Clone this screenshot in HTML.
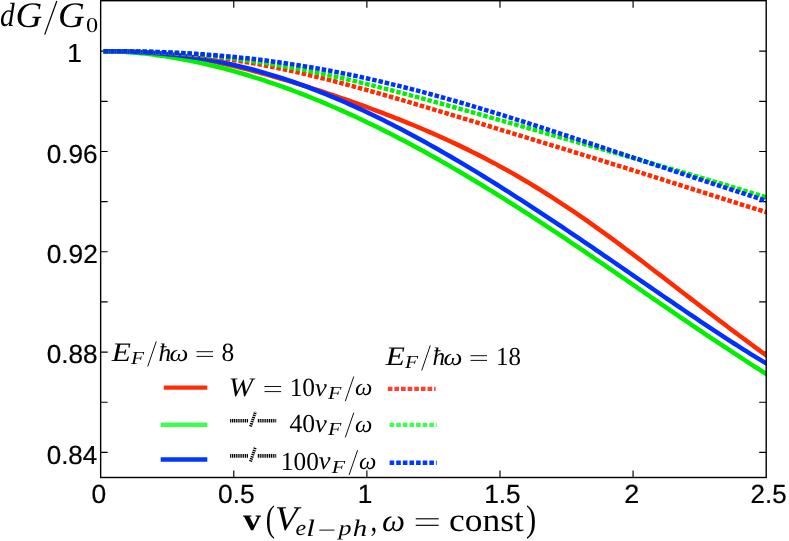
<!DOCTYPE html>
<html><head><meta charset="utf-8"><title>chart</title>
<style>html,body{margin:0;padding:0;background:#fff}body{width:789px;height:541px;overflow:hidden}svg{display:block;will-change:transform}.sans{font-family:"Liberation Sans",sans-serif;fill:#000}.ser{font-family:"Liberation Serif",serif;fill:#000}.it{font-style:italic}text{font-kerning:none;text-rendering:geometricPrecision}</style></head><body>
<svg width="789" height="541" viewBox="0 0 789 541">
<rect x="0" y="0" width="789" height="541" fill="#fff"/>
<defs><clipPath id="ax"><rect x="100.65" y="0.7" width="665.5500000000001" height="476.8"/></clipPath></defs>
<g stroke="#000" stroke-width="1.15" fill="none">
<path d="M100.65,452.40h7.0 M766.2,452.40h-7.0"/>
<path d="M100.65,402.24h7.0 M766.2,402.24h-7.0"/>
<path d="M100.65,352.09h7.0 M766.2,352.09h-7.0"/>
<path d="M100.65,301.93h7.0 M766.2,301.93h-7.0"/>
<path d="M100.65,251.77h7.0 M766.2,251.77h-7.0"/>
<path d="M100.65,201.62h7.0 M766.2,201.62h-7.0"/>
<path d="M100.65,151.46h7.0 M766.2,151.46h-7.0"/>
<path d="M100.65,101.31h7.0 M766.2,101.31h-7.0"/>
<path d="M100.65,51.15h7.0 M766.2,51.15h-7.0"/>
<path d="M233.76,477.5v-7.0 M233.76,0.7v7.0"/>
<path d="M366.87,477.5v-7.0 M366.87,0.7v7.0"/>
<path d="M499.98,477.5v-7.0 M499.98,0.7v7.0"/>
<path d="M633.09,477.5v-7.0 M633.09,0.7v7.0"/>
</g>
<g clip-path="url(#ax)" fill="none" stroke-linecap="butt" stroke-linejoin="round">
<path d="M103.20,51.15 L107.38,51.17 L111.56,51.20 L115.73,51.25 L119.91,51.33 L124.09,51.43 L128.27,51.56 L132.45,51.72 L136.62,51.91 L140.80,52.14 L144.98,52.39 L149.16,52.68 L153.34,53.01 L157.51,53.37 L161.69,53.77 L165.87,54.20 L170.05,54.67 L174.23,55.18 L178.40,55.72 L182.58,56.30 L186.76,56.91 L190.94,57.56 L195.12,58.25 L199.29,58.96 L203.47,59.71 L207.65,60.50 L211.83,61.31 L216.01,62.16 L220.18,63.04 L224.36,63.94 L228.54,64.88 L232.72,65.84 L236.90,66.83 L241.07,67.84 L245.25,68.88 L249.43,69.94 L253.61,71.03 L257.79,72.14 L261.96,73.27 L266.14,74.42 L270.32,75.59 L274.50,76.78 L278.68,77.99 L282.85,79.22 L287.03,80.46 L291.21,81.72 L295.39,83.00 L299.57,84.30 L303.74,85.61 L307.92,86.93 L312.10,88.27 L316.28,89.62 L320.46,90.99 L324.63,92.37 L328.81,93.77 L332.99,95.18 L337.17,96.60 L341.35,98.04 L345.52,99.49 L349.70,100.95 L353.88,102.43 L358.06,103.92 L362.24,105.43 L366.41,106.95 L370.59,108.49 L374.77,110.04 L378.95,111.61 L383.13,113.19 L387.30,114.80 L391.48,116.41 L395.66,118.05 L399.84,119.70 L404.02,121.38 L408.19,123.07 L412.37,124.78 L416.55,126.51 L420.73,128.27 L424.91,130.04 L429.08,131.84 L433.26,133.66 L437.44,135.50 L441.62,137.37 L445.79,139.26 L449.97,141.18 L454.15,143.13 L458.33,145.10 L462.51,147.10 L466.68,149.13 L470.86,151.18 L475.04,153.26 L479.22,155.38 L483.40,157.52 L487.57,159.70 L491.75,161.90 L495.93,164.14 L500.11,166.41 L504.29,168.71 L508.46,171.04 L512.64,173.40 L516.82,175.80 L521.00,178.23 L525.18,180.69 L529.35,183.18 L533.53,185.71 L537.71,188.27 L541.89,190.86 L546.07,193.48 L550.24,196.13 L554.42,198.82 L558.60,201.54 L562.78,204.29 L566.96,207.07 L571.13,209.87 L575.31,212.71 L579.49,215.58 L583.67,218.47 L587.85,221.39 L592.02,224.33 L596.20,227.31 L600.38,230.30 L604.56,233.32 L608.74,236.36 L612.91,239.42 L617.09,242.50 L621.27,245.60 L625.45,248.71 L629.63,251.85 L633.80,254.99 L637.98,258.15 L642.16,261.33 L646.34,264.51 L650.52,267.70 L654.69,270.91 L658.87,274.11 L663.05,277.33 L667.23,280.54 L671.41,283.76 L675.58,286.98 L679.76,290.20 L683.94,293.42 L688.12,296.64 L692.30,299.85 L696.47,303.06 L700.65,306.26 L704.83,309.46 L709.01,312.65 L713.19,315.82 L717.36,319.00 L721.54,322.16 L725.72,325.31 L729.90,328.45 L734.08,331.58 L738.25,334.70 L742.43,337.81 L746.61,340.91 L750.79,344.00 L754.97,347.09 L759.14,350.16 L763.32,353.24 L767.50,356.31" stroke="#ff2a00" stroke-width="4.5"/>
<path d="M103.20,51.16 L107.38,51.21 L111.56,51.31 L115.73,51.45 L119.91,51.63 L124.09,51.86 L128.27,52.13 L132.45,52.44 L136.62,52.79 L140.80,53.19 L144.98,53.62 L149.16,54.09 L153.34,54.60 L157.51,55.15 L161.69,55.73 L165.87,56.35 L170.05,57.01 L174.23,57.70 L178.40,58.43 L182.58,59.19 L186.76,59.99 L190.94,60.82 L195.12,61.68 L199.29,62.58 L203.47,63.51 L207.65,64.47 L211.83,65.46 L216.01,66.48 L220.18,67.54 L224.36,68.62 L228.54,69.74 L232.72,70.89 L236.90,72.06 L241.07,73.27 L245.25,74.50 L249.43,75.76 L253.61,77.06 L257.79,78.38 L261.96,79.73 L266.14,81.10 L270.32,82.51 L274.50,83.94 L278.68,85.40 L282.85,86.88 L287.03,88.40 L291.21,89.94 L295.39,91.50 L299.57,93.09 L303.74,94.71 L307.92,96.35 L312.10,98.02 L316.28,99.72 L320.46,101.44 L324.63,103.18 L328.81,104.95 L332.99,106.74 L337.17,108.56 L341.35,110.40 L345.52,112.27 L349.70,114.16 L353.88,116.08 L358.06,118.01 L362.24,119.97 L366.41,121.96 L370.59,123.97 L374.77,126.00 L378.95,128.05 L383.13,130.12 L387.30,132.22 L391.48,134.34 L395.66,136.48 L399.84,138.64 L404.02,140.82 L408.19,143.03 L412.37,145.25 L416.55,147.50 L420.73,149.76 L424.91,152.05 L429.08,154.36 L433.26,156.68 L437.44,159.03 L441.62,161.39 L445.79,163.77 L449.97,166.17 L454.15,168.59 L458.33,171.03 L462.51,173.49 L466.68,175.96 L470.86,178.45 L475.04,180.96 L479.22,183.49 L483.40,186.03 L487.57,188.58 L491.75,191.16 L495.93,193.74 L500.11,196.35 L504.29,198.96 L508.46,201.59 L512.64,204.24 L516.82,206.90 L521.00,209.57 L525.18,212.26 L529.35,214.96 L533.53,217.67 L537.71,220.39 L541.89,223.12 L546.07,225.86 L550.24,228.62 L554.42,231.38 L558.60,234.16 L562.78,236.94 L566.96,239.73 L571.13,242.54 L575.31,245.34 L579.49,248.16 L583.67,250.98 L587.85,253.81 L592.02,256.65 L596.20,259.49 L600.38,262.34 L604.56,265.19 L608.74,268.05 L612.91,270.91 L617.09,273.77 L621.27,276.64 L625.45,279.51 L629.63,282.38 L633.80,285.25 L637.98,288.12 L642.16,290.99 L646.34,293.87 L650.52,296.74 L654.69,299.61 L658.87,302.48 L663.05,305.34 L667.23,308.21 L671.41,311.07 L675.58,313.92 L679.76,316.77 L683.94,319.62 L688.12,322.46 L692.30,325.30 L696.47,328.13 L700.65,330.95 L704.83,333.77 L709.01,336.57 L713.19,339.37 L717.36,342.16 L721.54,344.94 L725.72,347.71 L729.90,350.47 L734.08,353.21 L738.25,355.95 L742.43,358.67 L746.61,361.39 L750.79,364.08 L754.97,366.77 L759.14,369.44 L763.32,372.10 L767.50,374.74" stroke="#00f000" stroke-width="4.5"/>
<path d="M103.20,51.15 L107.38,51.17 L111.56,51.21 L115.73,51.27 L119.91,51.36 L124.09,51.46 L128.27,51.59 L132.45,51.74 L136.62,51.92 L140.80,52.13 L144.98,52.36 L149.16,52.63 L153.34,52.92 L157.51,53.24 L161.69,53.59 L165.87,53.98 L170.05,54.39 L174.23,54.84 L178.40,55.31 L182.58,55.83 L186.76,56.37 L190.94,56.95 L195.12,57.56 L199.29,58.21 L203.47,58.89 L207.65,59.60 L211.83,60.35 L216.01,61.14 L220.18,61.96 L224.36,62.82 L228.54,63.71 L232.72,64.63 L236.90,65.59 L241.07,66.59 L245.25,67.62 L249.43,68.69 L253.61,69.79 L257.79,70.92 L261.96,72.10 L266.14,73.30 L270.32,74.54 L274.50,75.82 L278.68,77.12 L282.85,78.47 L287.03,79.84 L291.21,81.25 L295.39,82.70 L299.57,84.17 L303.74,85.68 L307.92,87.22 L312.10,88.79 L316.28,90.40 L320.46,92.03 L324.63,93.70 L328.81,95.39 L332.99,97.12 L337.17,98.88 L341.35,100.67 L345.52,102.48 L349.70,104.33 L353.88,106.20 L358.06,108.10 L362.24,110.03 L366.41,111.99 L370.59,113.97 L374.77,115.98 L378.95,118.02 L383.13,120.08 L387.30,122.17 L391.48,124.28 L395.66,126.42 L399.84,128.58 L404.02,130.76 L408.19,132.97 L412.37,135.20 L416.55,137.46 L420.73,139.73 L424.91,142.03 L429.08,144.35 L433.26,146.69 L437.44,149.05 L441.62,151.43 L445.79,153.83 L449.97,156.25 L454.15,158.69 L458.33,161.14 L462.51,163.62 L466.68,166.11 L470.86,168.62 L475.04,171.15 L479.22,173.69 L483.40,176.25 L487.57,178.83 L491.75,181.42 L495.93,184.02 L500.11,186.64 L504.29,189.28 L508.46,191.93 L512.64,194.59 L516.82,197.27 L521.00,199.95 L525.18,202.65 L529.35,205.37 L533.53,208.09 L537.71,210.83 L541.89,213.57 L546.07,216.33 L550.24,219.09 L554.42,221.87 L558.60,224.66 L562.78,227.45 L566.96,230.25 L571.13,233.06 L575.31,235.88 L579.49,238.71 L583.67,241.54 L587.85,244.38 L592.02,247.22 L596.20,250.07 L600.38,252.93 L604.56,255.78 L608.74,258.65 L612.91,261.51 L617.09,264.38 L621.27,267.26 L625.45,270.13 L629.63,273.01 L633.80,275.88 L637.98,278.76 L642.16,281.64 L646.34,284.51 L650.52,287.39 L654.69,290.26 L658.87,293.13 L663.05,296.00 L667.23,298.86 L671.41,301.72 L675.58,304.58 L679.76,307.42 L683.94,310.26 L688.12,313.10 L692.30,315.92 L696.47,318.73 L700.65,321.54 L704.83,324.33 L709.01,327.11 L713.19,329.88 L717.36,332.64 L721.54,335.38 L725.72,338.10 L729.90,340.81 L734.08,343.49 L738.25,346.16 L742.43,348.81 L746.61,351.44 L750.79,354.04 L754.97,356.62 L759.14,359.17 L763.32,361.69 L767.50,364.19" stroke="#0030ff" stroke-width="4.5"/>
<path d="M103.20,51.15 L107.38,51.16 L111.56,51.18 L115.73,51.21 L119.91,51.25 L124.09,51.31 L128.27,51.38 L132.45,51.46 L136.62,51.57 L140.80,51.69 L144.98,51.83 L149.16,51.99 L153.34,52.17 L157.51,52.37 L161.69,52.59 L165.87,52.83 L170.05,53.09 L174.23,53.38 L178.40,53.69 L182.58,54.03 L186.76,54.39 L190.94,54.77 L195.12,55.18 L199.29,55.61 L203.47,56.06 L207.65,56.54 L211.83,57.04 L216.01,57.57 L220.18,58.12 L224.36,58.69 L228.54,59.29 L232.72,59.91 L236.90,60.55 L241.07,61.22 L245.25,61.91 L249.43,62.62 L253.61,63.36 L257.79,64.11 L261.96,64.89 L266.14,65.69 L270.32,66.51 L274.50,67.35 L278.68,68.21 L282.85,69.08 L287.03,69.98 L291.21,70.89 L295.39,71.83 L299.57,72.78 L303.74,73.74 L307.92,74.73 L312.10,75.72 L316.28,76.74 L320.46,77.77 L324.63,78.81 L328.81,79.87 L332.99,80.94 L337.17,82.02 L341.35,83.11 L345.52,84.22 L349.70,85.34 L353.88,86.47 L358.06,87.61 L362.24,88.76 L366.41,89.91 L370.59,91.08 L374.77,92.25 L378.95,93.44 L383.13,94.63 L387.30,95.83 L391.48,97.03 L395.66,98.24 L399.84,99.46 L404.02,100.68 L408.19,101.90 L412.37,103.13 L416.55,104.37 L420.73,105.61 L424.91,106.85 L429.08,108.10 L433.26,109.35 L437.44,110.60 L441.62,111.85 L445.79,113.11 L449.97,114.37 L454.15,115.63 L458.33,116.89 L462.51,118.15 L466.68,119.42 L470.86,120.68 L475.04,121.95 L479.22,123.22 L483.40,124.49 L487.57,125.76 L491.75,127.02 L495.93,128.29 L500.11,129.56 L504.29,130.83 L508.46,132.10 L512.64,133.38 L516.82,134.65 L521.00,135.92 L525.18,137.19 L529.35,138.46 L533.53,139.73 L537.71,141.00 L541.89,142.28 L546.07,143.55 L550.24,144.82 L554.42,146.10 L558.60,147.37 L562.78,148.65 L566.96,149.93 L571.13,151.20 L575.31,152.48 L579.49,153.76 L583.67,155.04 L587.85,156.32 L592.02,157.61 L596.20,158.89 L600.38,160.18 L604.56,161.47 L608.74,162.76 L612.91,164.05 L617.09,165.34 L621.27,166.64 L625.45,167.94 L629.63,169.24 L633.80,170.54 L637.98,171.85 L642.16,173.15 L646.34,174.46 L650.52,175.77 L654.69,177.09 L658.87,178.40 L663.05,179.72 L667.23,181.04 L671.41,182.36 L675.58,183.69 L679.76,185.01 L683.94,186.34 L688.12,187.66 L692.30,188.99 L696.47,190.32 L700.65,191.65 L704.83,192.98 L709.01,194.30 L713.19,195.63 L717.36,196.95 L721.54,198.27 L725.72,199.59 L729.90,200.91 L734.08,202.22 L738.25,203.52 L742.43,204.82 L746.61,206.12 L750.79,207.40 L754.97,208.68 L759.14,209.95 L763.32,211.20 L767.50,212.45" stroke="#ff2a00" stroke-width="4.5" stroke-dasharray="4.5 1.94" stroke-dashoffset="5.82"/>
<path d="M103.20,51.15 L107.38,51.16 L111.56,51.17 L115.73,51.20 L119.91,51.23 L124.09,51.28 L128.27,51.34 L132.45,51.41 L136.62,51.49 L140.80,51.59 L144.98,51.71 L149.16,51.84 L153.34,51.98 L157.51,52.14 L161.69,52.32 L165.87,52.52 L170.05,52.74 L174.23,52.97 L178.40,53.22 L182.58,53.49 L186.76,53.79 L190.94,54.10 L195.12,54.43 L199.29,54.78 L203.47,55.15 L207.65,55.54 L211.83,55.95 L216.01,56.38 L220.18,56.83 L224.36,57.30 L228.54,57.79 L232.72,58.30 L236.90,58.83 L241.07,59.38 L245.25,59.96 L249.43,60.55 L253.61,61.16 L257.79,61.79 L261.96,62.43 L266.14,63.10 L270.32,63.79 L274.50,64.49 L278.68,65.21 L282.85,65.95 L287.03,66.71 L291.21,67.49 L295.39,68.28 L299.57,69.09 L303.74,69.91 L307.92,70.75 L312.10,71.60 L316.28,72.48 L320.46,73.36 L324.63,74.26 L328.81,75.17 L332.99,76.10 L337.17,77.04 L341.35,78.00 L345.52,78.96 L349.70,79.94 L353.88,80.93 L358.06,81.93 L362.24,82.94 L366.41,83.97 L370.59,85.00 L374.77,86.04 L378.95,87.09 L383.13,88.16 L387.30,89.23 L391.48,90.30 L395.66,91.39 L399.84,92.48 L404.02,93.58 L408.19,94.69 L412.37,95.81 L416.55,96.93 L420.73,98.05 L424.91,99.18 L429.08,100.32 L433.26,101.46 L437.44,102.61 L441.62,103.76 L445.79,104.91 L449.97,106.07 L454.15,107.23 L458.33,108.40 L462.51,109.56 L466.68,110.73 L470.86,111.91 L475.04,113.08 L479.22,114.26 L483.40,115.44 L487.57,116.62 L491.75,117.80 L495.93,118.98 L500.11,120.17 L504.29,121.35 L508.46,122.54 L512.64,123.72 L516.82,124.91 L521.00,126.10 L525.18,127.29 L529.35,128.47 L533.53,129.66 L537.71,130.85 L541.89,132.04 L546.07,133.23 L550.24,134.42 L554.42,135.60 L558.60,136.79 L562.78,137.98 L566.96,139.17 L571.13,140.36 L575.31,141.54 L579.49,142.73 L583.67,143.92 L587.85,145.11 L592.02,146.30 L596.20,147.49 L600.38,148.67 L604.56,149.86 L608.74,151.05 L612.91,152.24 L617.09,153.43 L621.27,154.63 L625.45,155.82 L629.63,157.01 L633.80,158.21 L637.98,159.40 L642.16,160.60 L646.34,161.80 L650.52,163.00 L654.69,164.20 L658.87,165.40 L663.05,166.61 L667.23,167.82 L671.41,169.03 L675.58,170.24 L679.76,171.46 L683.94,172.67 L688.12,173.89 L692.30,175.12 L696.47,176.34 L700.65,177.58 L704.83,178.81 L709.01,180.05 L713.19,181.29 L717.36,182.53 L721.54,183.78 L725.72,185.03 L729.90,186.29 L734.08,187.55 L738.25,188.81 L742.43,190.08 L746.61,191.35 L750.79,192.63 L754.97,193.91 L759.14,195.20 L763.32,196.49 L767.50,197.78" stroke="#00f000" stroke-width="4.5" stroke-dasharray="4.5 1.94" stroke-dashoffset="5.82"/>
<path d="M103.20,51.15 L107.38,51.16 L111.56,51.18 L115.73,51.20 L119.91,51.23 L124.09,51.28 L128.27,51.33 L132.45,51.39 L136.62,51.47 L140.80,51.55 L144.98,51.65 L149.16,51.75 L153.34,51.87 L157.51,52.00 L161.69,52.15 L165.87,52.31 L170.05,52.48 L174.23,52.66 L178.40,52.86 L182.58,53.07 L186.76,53.30 L190.94,53.54 L195.12,53.80 L199.29,54.07 L203.47,54.35 L207.65,54.65 L211.83,54.97 L216.01,55.30 L220.18,55.65 L224.36,56.02 L228.54,56.40 L232.72,56.80 L236.90,57.21 L241.07,57.64 L245.25,58.09 L249.43,58.55 L253.61,59.03 L257.79,59.53 L261.96,60.04 L266.14,60.57 L270.32,61.12 L274.50,61.68 L278.68,62.26 L282.85,62.86 L287.03,63.48 L291.21,64.11 L295.39,64.76 L299.57,65.42 L303.74,66.10 L307.92,66.80 L312.10,67.52 L316.28,68.25 L320.46,69.00 L324.63,69.76 L328.81,70.54 L332.99,71.34 L337.17,72.15 L341.35,72.98 L345.52,73.83 L349.70,74.69 L353.88,75.56 L358.06,76.45 L362.24,77.36 L366.41,78.28 L370.59,79.22 L374.77,80.17 L378.95,81.13 L383.13,82.11 L387.30,83.11 L391.48,84.11 L395.66,85.14 L399.84,86.17 L404.02,87.22 L408.19,88.28 L412.37,89.35 L416.55,90.44 L420.73,91.54 L424.91,92.65 L429.08,93.77 L433.26,94.91 L437.44,96.05 L441.62,97.21 L445.79,98.38 L449.97,99.55 L454.15,100.74 L458.33,101.94 L462.51,103.15 L466.68,104.37 L470.86,105.60 L475.04,106.83 L479.22,108.08 L483.40,109.33 L487.57,110.59 L491.75,111.86 L495.93,113.14 L500.11,114.42 L504.29,115.72 L508.46,117.02 L512.64,118.32 L516.82,119.63 L521.00,120.95 L525.18,122.27 L529.35,123.60 L533.53,124.94 L537.71,126.27 L541.89,127.62 L546.07,128.96 L550.24,130.32 L554.42,131.67 L558.60,133.03 L562.78,134.39 L566.96,135.76 L571.13,137.13 L575.31,138.50 L579.49,139.87 L583.67,141.24 L587.85,142.62 L592.02,144.00 L596.20,145.38 L600.38,146.76 L604.56,148.14 L608.74,149.52 L612.91,150.90 L617.09,152.29 L621.27,153.67 L625.45,155.05 L629.63,156.43 L633.80,157.81 L637.98,159.19 L642.16,160.57 L646.34,161.95 L650.52,163.33 L654.69,164.71 L658.87,166.08 L663.05,167.45 L667.23,168.83 L671.41,170.20 L675.58,171.56 L679.76,172.93 L683.94,174.29 L688.12,175.65 L692.30,177.01 L696.47,178.37 L700.65,179.73 L704.83,181.08 L709.01,182.43 L713.19,183.78 L717.36,185.12 L721.54,186.46 L725.72,187.81 L729.90,189.14 L734.08,190.48 L738.25,191.82 L742.43,193.15 L746.61,194.48 L750.79,195.81 L754.97,197.13 L759.14,198.46 L763.32,199.78 L767.50,201.11" stroke="#0030ff" stroke-width="4.5" stroke-dasharray="4.5 1.94" stroke-dashoffset="5.82"/>
</g>
<rect x="100.65" y="0.7" width="665.5500000000001" height="476.8" fill="none" stroke="#000" stroke-width="1.4"/>
<g class="sans" opacity="0.999" stroke="#000" stroke-width="0.8">
<text font-family="Liberation Sans" font-size="100" transform="matrix(0.26190,0,0,0.26059,46.677,162.808)">0.96</text>
<text font-family="Liberation Sans" font-size="100" transform="matrix(0.26280,0,0,0.26059,46.673,263.120)">0.92</text>
<text font-family="Liberation Sans" font-size="100" transform="matrix(0.26183,0,0,0.26059,46.677,363.432)">0.88</text>
<text font-family="Liberation Sans" font-size="100" transform="matrix(0.25986,0,0,0.26059,46.685,463.744)">0.84</text>
<text font-family="Liberation Sans" font-size="100" transform="matrix(0.26267,0,0,0.26130,67.373,61.645)">1</text>
<text font-family="Liberation Sans" font-size="100" transform="matrix(0.26358,0,0,0.26271,91.470,502.543)">0</text>
<text font-family="Liberation Sans" font-size="100" transform="matrix(0.26354,0,0,0.26271,218.071,502.543)">0.5</text>
<text font-family="Liberation Sans" font-size="100" transform="matrix(0.26267,0,0,0.26271,357.673,502.543)">1</text>
<text font-family="Liberation Sans" font-size="100" transform="matrix(0.26199,0,0,0.26271,484.180,502.543)">1.5</text>
<text font-family="Liberation Sans" font-size="100" transform="matrix(0.26999,0,0,0.26271,624.242,502.543)">2</text>
<text font-family="Liberation Sans" font-size="100" transform="matrix(0.25889,0,0,0.26271,750.598,502.543)">2.5</text>
</g>
<g class="ser" opacity="0.999">
<text font-family="Liberation Serif" font-style="italic" font-size="100" transform="matrix(0.29439,0,0,0.33376,0.109,26.358)">d</text>
<text font-family="Liberation Serif" font-style="italic" font-size="100" transform="matrix(0.37025,0,0,0.35922,15.457,26.584)">G</text>
<path d="M44.69,34.6L56.81,1.0" stroke="#000" stroke-width="1.25" fill="none" stroke-linecap="butt"/>
<text font-family="Liberation Serif" font-style="italic" font-size="100" transform="matrix(0.37025,0,0,0.35922,58.057,26.584)">G</text>
<text font-family="Liberation Serif" font-size="100" transform="matrix(0.24302,0,0,0.21191,85.974,31.593)">0</text>
<text font-family="Liberation Serif" font-weight="bold" font-size="100" transform="matrix(0.36000,0,0,0.31787,243.100,530.290)">v</text>
<text font-family="Liberation Serif" font-size="100" transform="matrix(0.27644,0,0,0.37056,265.685,531.111)">(</text>
<text font-family="Liberation Serif" font-style="italic" font-size="100" transform="matrix(0.37264,0,0,0.34780,275.053,530.374)">V</text>
<text font-family="Liberation Serif" font-style="italic" font-size="100" transform="matrix(0.24064,0,0,0.21624,295.560,535.489)">e</text>
<text font-family="Liberation Serif" font-style="italic" font-size="100" transform="matrix(0.31090,0,0,0.23636,306.145,535.700)">l</text>
<path d="M319.3,530.1H334.5" stroke="#000" stroke-width="0.95" fill="none"/>
<text font-family="Liberation Serif" font-style="italic" font-size="100" transform="matrix(0.25931,0,0,0.21489,338.519,535.425)">p</text>
<text font-family="Liberation Serif" font-style="italic" font-size="100" transform="matrix(0.28885,0,0,0.23636,352.656,535.700)">h</text>
<text font-family="Liberation Serif" font-size="100" transform="matrix(0.26859,0,0,0.34652,370.477,531.170)">,</text>
<text font-family="Liberation Serif" font-style="italic" font-size="100" transform="matrix(0.32596,0,0,0.31765,382.018,530.590)">ω</text>
<path d="M415.7,518.8H438.7" stroke="#000" stroke-width="1.15" fill="none"/>
<path d="M415.7,525.3H438.7" stroke="#000" stroke-width="1.15" fill="none"/>
<text font-family="Liberation Serif" font-size="100" transform="matrix(0.35415,0,0,0.32851,449.051,530.779)">const</text>
<text font-family="Liberation Serif" font-size="100" transform="matrix(0.30759,0,0,0.37056,526.109,531.111)">)</text>
</g>
<g fill="none" stroke-width="4.4">
<path d="M163.8,387.6H207.3" stroke="#ff2c0a"/>
<path d="M160.7,424.7H207.3" stroke="#3cff50"/>
<path d="M160.7,459.5H207.3" stroke="#0038ff"/>
<path d="M387.8,388.9H435.6" stroke="#ff4030" stroke-dasharray="4.6 2.02"/>
<path d="M389.6,424.9H436.7" stroke="#3cff50" stroke-dasharray="4.6 2.02"/>
<path d="M389.6,462.8H436.7" stroke="#0038ff" stroke-dasharray="4.6 2.02"/>
</g>
<g stroke="#000" fill="none"><path d="M230.1,420.8H248.7 M257.8,420.8H276.6" stroke-width="3.6" stroke-dasharray="1.16 0.70"/><path d="M250.5,426.5L255.5,411.8" stroke-width="3.0" stroke-dasharray="1.35 0.85"/></g>
<g stroke="#000" fill="none"><path d="M230.1,455.9H248.7 M257.8,455.9H276.6" stroke-width="3.6" stroke-dasharray="1.16 0.70"/><path d="M250.5,461.6L255.5,446.9" stroke-width="3.0" stroke-dasharray="1.35 0.85"/></g>
<g class="ser" opacity="0.999">
<text font-family="Liberation Serif" font-style="italic" font-size="100" transform="matrix(0.31330,0,0,0.26726,111.767,360.700)">E</text><text font-family="Liberation Serif" font-style="italic" font-size="100" transform="matrix(0.21297,0,0,0.18479,130.914,364.200)">F</text><path d="M147.72,366.5L156.28,341.40000000000003" stroke="#000" stroke-width="0.95" fill="none" stroke-linecap="butt"/><text font-family="Liberation Serif" font-style="italic" font-size="100" transform="matrix(0.25334,0,0,0.25366,158.585,360.800)">ħ</text><text font-family="Liberation Serif" font-style="italic" font-size="100" transform="matrix(0.26713,0,0,0.24033,169.613,360.665)">ω</text><path d="M196.5,351.70000000000005H213.0" stroke="#000" stroke-width="0.95" fill="none"/><path d="M196.5,356.40000000000003H213.0" stroke="#000" stroke-width="0.95" fill="none"/><text font-family="Liberation Serif" font-size="100" transform="matrix(0.25482,0,0,0.26230,221.529,360.944)">8</text>
<text font-family="Liberation Serif" font-style="italic" font-size="100" transform="matrix(0.31330,0,0,0.26726,385.767,364.700)">E</text><text font-family="Liberation Serif" font-style="italic" font-size="100" transform="matrix(0.21297,0,0,0.18479,404.914,368.200)">F</text><path d="M421.72,370.5L430.28,345.40000000000003" stroke="#000" stroke-width="0.95" fill="none" stroke-linecap="butt"/><text font-family="Liberation Serif" font-style="italic" font-size="100" transform="matrix(0.25334,0,0,0.25366,432.585,364.800)">ħ</text><text font-family="Liberation Serif" font-style="italic" font-size="100" transform="matrix(0.26713,0,0,0.24033,443.613,364.665)">ω</text><path d="M470.5,355.70000000000005H487.0" stroke="#000" stroke-width="0.95" fill="none"/><path d="M470.5,360.40000000000003H487.0" stroke="#000" stroke-width="0.95" fill="none"/><text font-family="Liberation Serif" font-size="100" transform="matrix(0.24942,0,0,0.25933,496.108,364.947)">18</text>
<text font-family="Liberation Serif" font-style="italic" font-size="100" transform="matrix(0.29308,0,0,0.26869,228.768,395.593)">W</text>
<path d="M264.5,386.5H281.2" stroke="#000" stroke-width="0.95" fill="none"/>
<path d="M264.5,391.6H281.2" stroke="#000" stroke-width="0.95" fill="none"/>
<text font-family="Liberation Serif" font-size="100" transform="matrix(0.25400,0,0,0.26230,289.668,395.644)">10</text>
<text font-family="Liberation Serif" font-style="italic" font-size="100" transform="matrix(0.26501,0,0,0.25387,314.938,395.552)">v</text><text font-family="Liberation Serif" font-style="italic" font-size="100" transform="matrix(0.21777,0,0,0.18479,327.917,399.000)">F</text><path d="M345.32,401.20000000000005L353.78,376.5" stroke="#000" stroke-width="0.95" fill="none" stroke-linecap="butt"/><text font-family="Liberation Serif" font-style="italic" font-size="100" transform="matrix(0.24646,0,0,0.24242,355.082,395.463)">ω</text>
<text font-family="Liberation Serif" font-size="100" transform="matrix(0.25627,0,0,0.26082,289.449,431.945)">40</text>
<text font-family="Liberation Serif" font-style="italic" font-size="100" transform="matrix(0.26501,0,0,0.25387,314.938,431.752)">v</text><text font-family="Liberation Serif" font-style="italic" font-size="100" transform="matrix(0.21777,0,0,0.18479,327.917,435.200)">F</text><path d="M345.32,437.40000000000003L353.78,412.7" stroke="#000" stroke-width="0.95" fill="none" stroke-linecap="butt"/><text font-family="Liberation Serif" font-style="italic" font-size="100" transform="matrix(0.24646,0,0,0.24242,355.082,431.663)">ω</text>
<text font-family="Liberation Serif" font-size="100" transform="matrix(0.25327,0,0,0.26082,280.874,469.545)">100</text>
<text font-family="Liberation Serif" font-style="italic" font-size="100" transform="matrix(0.26501,0,0,0.25387,318.738,469.252)">v</text><text font-family="Liberation Serif" font-style="italic" font-size="100" transform="matrix(0.21777,0,0,0.18479,331.717,472.700)">F</text><path d="M349.12,474.90000000000003L357.58,450.2" stroke="#000" stroke-width="0.95" fill="none" stroke-linecap="butt"/><text font-family="Liberation Serif" font-style="italic" font-size="100" transform="matrix(0.24646,0,0,0.24242,358.882,469.163)">ω</text>
</g>
</svg></body></html>
